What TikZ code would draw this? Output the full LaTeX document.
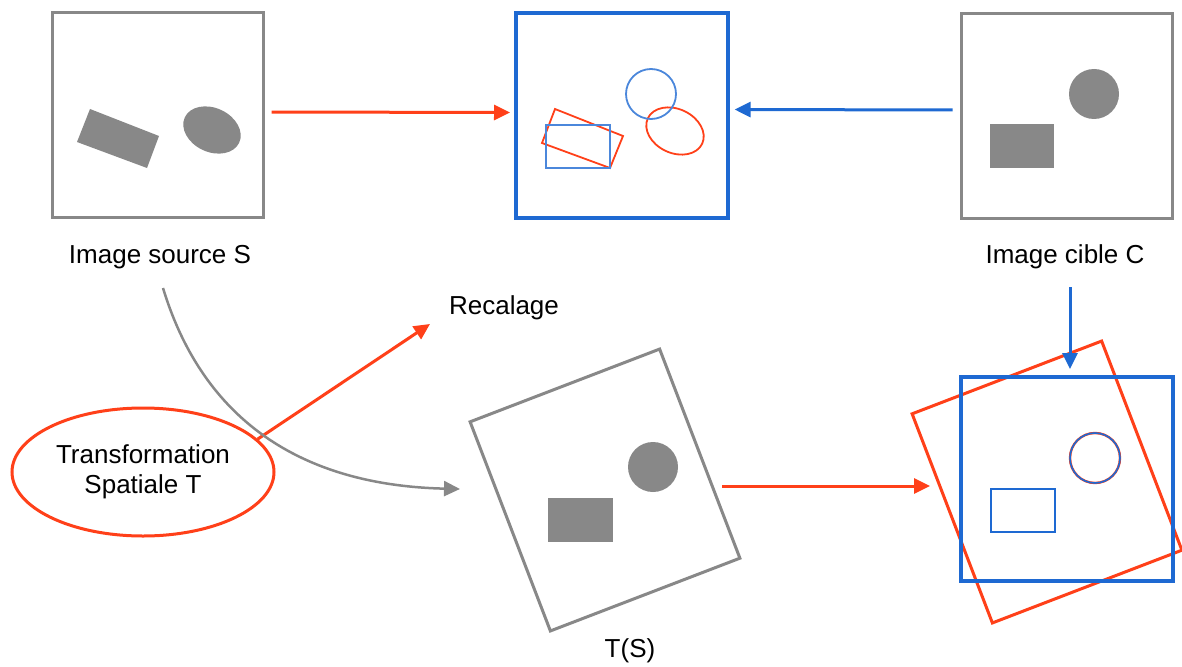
\documentclass[tikz,border=0pt]{standalone}
\usepackage{fontspec}
\setmainfont{Liberation Sans}
\usetikzlibrary{arrows.meta,shapes.geometric}

\definecolor{gris}{RGB}{136,136,136}
\definecolor{rouge}{RGB}{255,64,25}
\definecolor{bleu}{RGB}{30,105,210}

\begin{document}
\begin{tikzpicture}[x=1pt, y=-1pt,
  boite/.style={draw=gris, line width=3pt, minimum width=211pt, minimum height=204pt, inner sep=0pt},
  lab/.style={font=\fontsize{26}{29.5}\selectfont, anchor=base},
  fleche/.style={line width=3pt, -{Triangle[length=16pt,width=15pt]}},
  forme/.style={fill=gris}]

\path[use as bounding box, fill=white] (0,0) rectangle (1182,666);

\def\rx{30pt}
\def\ry{22pt}
\def\rc{25pt}

% images du haut
\node[boite] (src) at (157.5,115) {};
\node[boite, draw=rouge, line width=4pt, minimum width=212pt, minimum height=205pt] (midr) at (622,115.5) {};
\node[boite, draw=bleu, line width=3.2pt, minimum width=212pt, minimum height=205pt] (mid) at (622,115.5) {};
\node[boite] (cib) at (1066.5,116) {};

\fill[forme] (90,109) -- (159,136) -- (147,168) -- (77,142) -- cycle;
\fill[forme, rotate around={-25:(212,130)}] (212,130) ellipse [x radius=\rx, y radius=\ry];

\draw[rouge, line width=1.8pt] (555,109) -- (623,136) -- (610,168) -- (542,143) -- cycle;
\draw[rouge, line width=1.8pt, rotate around={-25:(675,131)}] (675,131) ellipse [x radius=\rx, y radius=\ry];
\draw[bleu!80!white, line width=1.8pt] (651,94) circle [radius=\rc];
\draw[bleu!80!white, line width=1.8pt] (546,125) rectangle (610,168);

\fill[forme] (1094,94) circle [radius=\rc];
\fill[forme] (990,124) rectangle (1054,168);

% images du bas
\node[boite, minimum width=203pt, minimum height=224pt, rotate=21] (ts) at (605,490) {};
\fill[forme] (653,467) circle [radius=\rc];
\fill[forme] (548,498) rectangle (613,542);

\node[boite, draw=rouge, minimum width=203pt, minimum height=224pt, rotate=21] (resr) at (1047,482) {};
\node[boite, draw=bleu, line width=3.2pt, minimum width=212pt, minimum height=204pt] (res) at (1067,479) {};
\draw[rouge, line width=2.4pt] (1095,458) circle [radius=\rc];
\draw[bleu, line width=1.6pt] (1095,458) circle [radius=\rc];
\draw[rouge, line width=2.4pt] (991,489) rectangle (1055,532);
\draw[bleu, line width=1.6pt] (991,489) rectangle (1055,532);

% textes
\node[lab] (srclab) at (160,263) {Image source S};
\node[lab] (ciblab) at (1065,263) {Image cible C};
\node[lab] (recal) at (504,314) {Recalage};
\node[lab] (tslab) at (630,657) {T(S)};
\node[ellipse, draw=rouge, line width=3pt, inner sep=0pt, minimum width=262pt, minimum height=128pt,
  align=center, font=\fontsize{26}{29.5}\selectfont] (transfo) at (143,472) {Transformation\\Spatiale T};

\coordinate (srcout) at (163,288);
\coordinate (tsin) at (460,489);
\coordinate (tsout) at (722,486);
\coordinate (resin) at (930,486);
\coordinate (cibout) at (1070,287);
\coordinate (cibin) at (1070,369);
\coordinate (recalin) at (430,324);

% fleches
\draw[fleche, rouge, shorten <=7pt, shorten >=4pt] ([yshift=3pt]src.east) -- ([yshift=3pt]midr.west);
\draw[fleche, bleu, shorten <=7pt, shorten >=5pt] ([yshift=6pt]cib.west) -- ([yshift=6pt]mid.east);
\draw[fleche, rouge] (transfo.16) -- (recalin);
\draw[fleche, gris, line width=2.5pt] (srcout) .. controls (200,410) and (290,485) .. (tsin);
\draw[fleche, rouge] (tsout) -- (resin);
\draw[fleche, bleu] (cibout) -- (cibin);

\end{tikzpicture}
\end{document}
